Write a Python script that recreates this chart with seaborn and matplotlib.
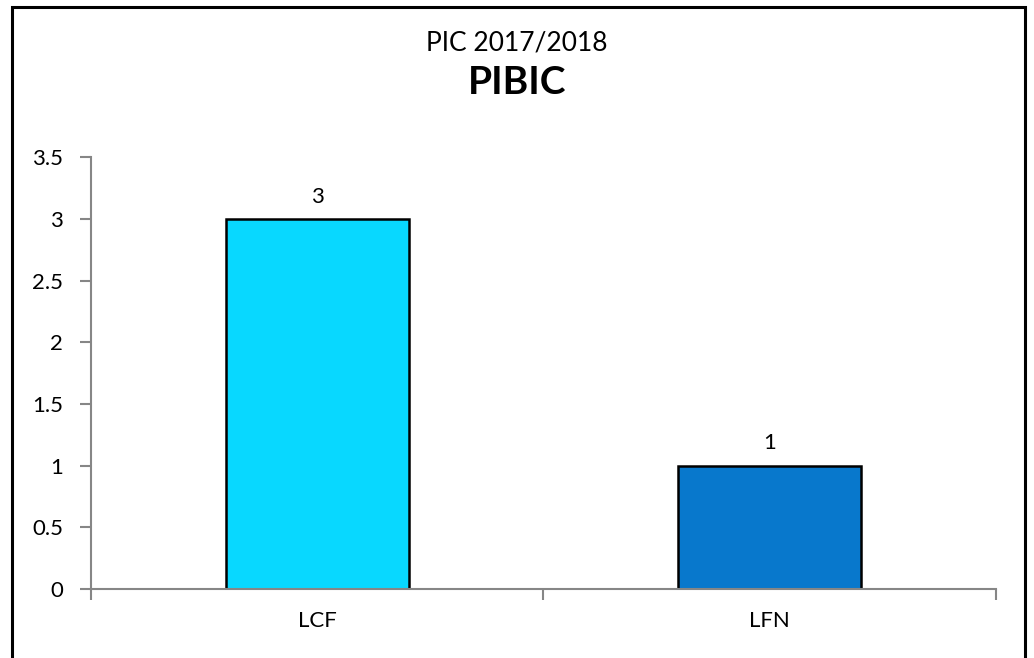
import matplotlib
matplotlib.use("Agg")
import matplotlib.pyplot as plt
import seaborn as sns
import pandas as pd
from matplotlib.patches import Rectangle

categories = ["LCF", "LFN"]
values = [3, 1]
bar_colors = ["#08D8FF", "#0878CC"]
y_ticks = [0, 0.5, 1, 1.5, 2, 2.5, 3, 3.5]
y_tick_labels = ["0", "0.5", "1", "1.5", "2", "2.5", "3", "3.5"]

sns.set_style("white", {"text.color": "black", "xtick.color": "black",
                        "ytick.color": "black"})
plt.rcParams["font.family"] = ["Lato", "DejaVu Sans"]

df = pd.DataFrame({"lab": categories, "n": values})

fig = plt.figure(figsize=(10.34, 6.58), dpi=100)
ax = fig.add_axes([0.088, 0.105, 0.875, 0.656])

sns.barplot(data=df, x="lab", y="n", hue="lab", palette=bar_colors,
            saturation=1, width=0.405, edgecolor="black", linewidth=1.8,
            legend=False, ax=ax)

for i, v in enumerate(values):
    ax.text(i, v + 0.1, str(v), ha="center", va="bottom", fontsize=16,
            color="black")

ax.set_xlim(-0.5, 1.5)
ax.set_ylim(0, 3.5)
ax.set_yticks(y_ticks)
ax.set_yticklabels(y_tick_labels, fontsize=16)
ax.set_xticks([0, 1])
ax.set_xticklabels(categories, fontsize=16)
ax.set_xlabel("")
ax.set_ylabel("")

# ticks at the category boundaries, like the spreadsheet chart
ax.set_xticks([-0.5, 0.5, 1.5], minor=True)
ax.tick_params(axis="x", which="major", bottom=True, length=0, pad=16,
               labelcolor="black")
ax.tick_params(axis="x", which="minor", bottom=True, length=8, width=1.5,
               color="#868686", direction="out")
ax.tick_params(axis="y", left=True, length=8, width=1.5, color="#868686",
               direction="out", pad=12, labelcolor="black")

sns.despine(ax=ax, top=True, right=True)
for s in ["left", "bottom"]:
    ax.spines[s].set_color("#868686")
    ax.spines[s].set_linewidth(1.5)

fig.text(0.5, 0.935, "PIC 2017/2018", ha="center", va="center", fontsize=19,
         color="black")
fig.text(0.5, 0.875, "PIBIC", ha="center", va="center", fontsize=28,
         fontweight="bold", color="black")

border = Rectangle((12 / 1034, -0.05), (1025 - 12) / 1034, 1.05 - 7 / 658,
                   transform=fig.transFigure, fill=False,
                   edgecolor="black", linewidth=2.2)
fig.patches.append(border)

fig.savefig("out.png", dpi=100)
